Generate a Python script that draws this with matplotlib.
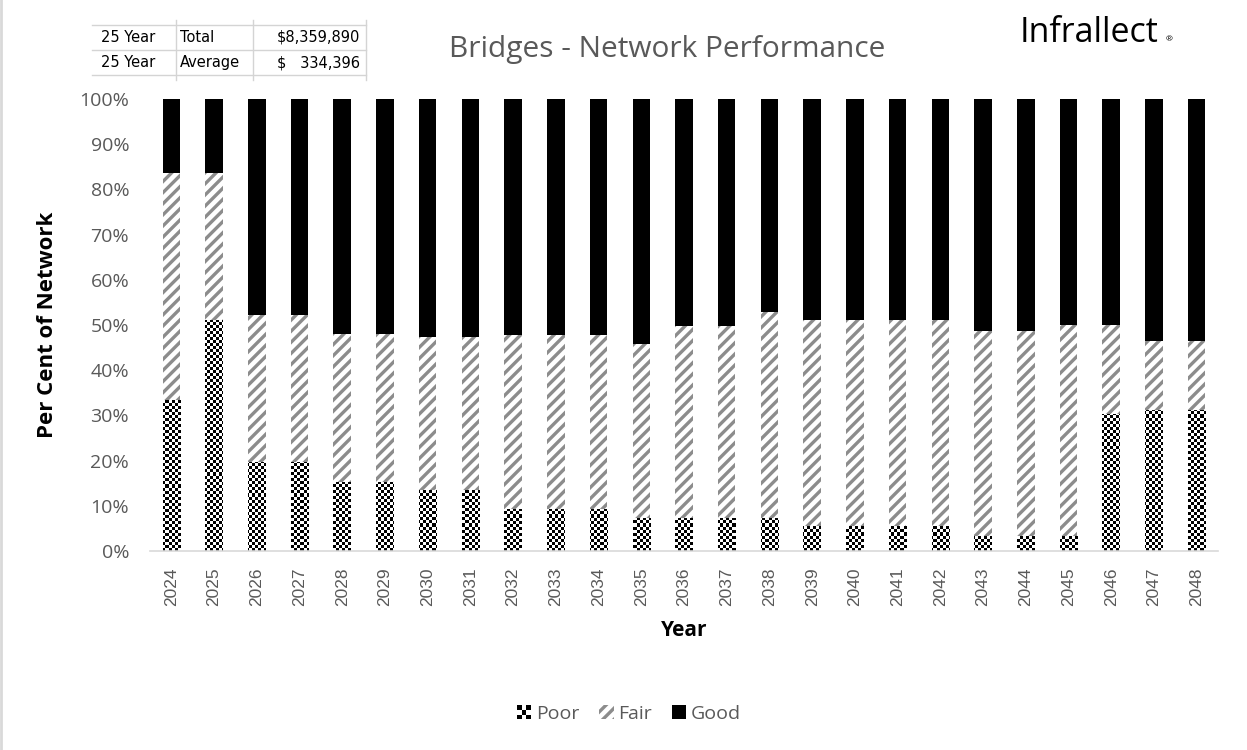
import numpy as np
import matplotlib
matplotlib.use("Agg")
import matplotlib.pyplot as plt
from matplotlib.patches import Rectangle, Patch
from matplotlib.legend_handler import HandlerBase
from matplotlib.lines import Line2D

# Data (per cent of network)
years = [str(y) for y in range(2024, 2049)]
poor = [33.3, 51.0, 19.6, 19.6, 15.3, 15.3, 13.5, 13.5, 9.2, 9.2, 9.2, 7.4, 7.4,
        7.4, 7.4, 5.6, 5.6, 5.6, 5.6, 3.3, 3.3, 3.3, 30.3, 31.2, 31.2]
fair = [50.4, 32.7, 32.6, 32.6, 32.7, 32.7, 33.9, 33.9, 38.6, 38.6, 38.6, 38.5, 42.4,
        42.4, 45.4, 45.5, 45.5, 45.5, 45.5, 45.4, 45.4, 46.7, 19.7, 15.3, 15.3]
good = [16.3, 16.3, 47.8, 47.8, 52.0, 52.0, 52.6, 52.6, 52.2, 52.2, 52.2, 54.1, 50.2,
        50.2, 47.2, 48.9, 48.9, 48.9, 48.9, 51.3, 51.3, 50.0, 50.0, 53.5, 53.5]
yticks = list(range(0, 101, 10))
table_rows = [["25 Year", "Total", "$8,359,890"],
              ["25 Year", "Average", "$   334,396"]]

GRAY = "#595959"
plt.rcParams['font.family'] = ['Open Sans', 'DejaVu Sans']
plt.rcParams['hatch.linewidth'] = 2.4

W, H, DPI = 1247, 750, 100
fig = plt.figure(figsize=(W / DPI, H / DPI), dpi=DPI)
ax = fig.add_axes([150 / W, 1 - 551 / H, (1218 - 150) / W, (551 - 99) / H])

x = np.arange(len(years))
width = 0.41
bottom_fair = np.array(poor)
bottom_good = bottom_fair + np.array(fair)

bars_poor = ax.bar(x, poor, width, color="white", linewidth=0)
ax.bar(x, fair, width, bottom=bottom_fair, color="white", edgecolor="#8c8c8c",
       hatch="///", linewidth=0)
ax.bar(x, good, width, bottom=bottom_good, color="black", linewidth=0)

ax.set_xlim(-0.5, len(years) - 0.5)
ax.set_ylim(0, 100)

# checkerboard fill for the Poor bars, clipped to each bar
cell = 3
nx = int((1218 - 150) / cell)
ny = int((551 - 99) / cell)
checker = (np.add.outer(np.arange(ny), np.arange(nx)) % 2).astype(float)
for b in bars_poor:
    im = ax.imshow(checker, cmap="gray", extent=(-0.5, len(years) - 0.5, 0, 100),
                   aspect="auto", interpolation="nearest", origin="lower", zorder=2)
    im.set_clip_path(b)
ax.set_xlim(-0.5, len(years) - 0.5)
ax.set_ylim(0, 100)

ax.set_yticks(yticks)
ax.set_yticklabels([f"{t}%" for t in yticks])
ax.set_xticks(x)
ax.set_xticklabels(years, rotation=90)
ax.tick_params(axis="both", length=0, colors=GRAY, labelsize=14)
ax.tick_params(axis="y", pad=15)
ax.tick_params(axis="x", pad=12)
for lbl in ax.get_xticklabels():
    lbl.set_family(['Liberation Sans', 'DejaVu Sans'])
    lbl.set_fontsize(12.5)
for s in ["top", "right", "left"]:
    ax.spines[s].set_visible(False)
ax.spines["bottom"].set_color("#d9d9d9")
ax.spines["bottom"].set_linewidth(1.2)

ax.set_xlabel("Year", fontsize=15, fontweight="bold", labelpad=10)
ax.set_ylabel("Per Cent of Network", fontsize=16, fontweight="bold", labelpad=15)

fig.text(667 / W, 1 - 50 / H, "Bridges - Network Performance", ha="center", va="center",
         fontsize=21.5, color=GRAY)

# logo
fig.text(1020 / W, 1 - 33 / H, "Infrallect", ha="left", va="center", fontsize=24.5,
         color="black")
fig.text(1166 / W, 1 - 40 / H, "\u00ae", ha="left", va="center", fontsize=6,
         color="black")

# summary table, top left
col_edges = [92, 176, 253, 366]
row_edges = [25, 50, 75]
for yy in row_edges:
    fig.add_artist(Line2D([col_edges[0] / W, col_edges[-1] / W], [1 - yy / H] * 2,
                          color="#d4d4d4", lw=1))
for xx in col_edges[1:]:
    fig.add_artist(Line2D([xx / W] * 2, [1 - (row_edges[0] - 5) / H, 1 - (row_edges[-1] + 5) / H],
                          color="#d4d4d4", lw=1))
for r, row in enumerate(table_rows):
    yc = 1 - (row_edges[r] + row_edges[r + 1]) / 2 / H
    fig.text(101 / W, yc, row[0], ha="left", va="center", fontsize=10.5,
             family="DejaVu Sans", color="black")
    fig.text(180 / W, yc, row[1], ha="left", va="center", fontsize=10.5,
             family="DejaVu Sans", color="black")
    fig.text(360 / W, yc, row[2], ha="right", va="center", fontsize=10.5,
             family="DejaVu Sans", color="black")


class HandlerChecker(HandlerBase):
    def create_artists(self, legend, orig_handle, xdescent, ydescent, width, height,
                       fontsize, trans):
        n = 3
        s = min(width, height)
        cw = s / n
        arts = []
        for i in range(n):
            for j in range(n):
                if (i + j) % 2 == 0:
                    arts.append(Rectangle((-xdescent + i * cw, -ydescent + j * cw), cw, cw,
                                          facecolor="black", linewidth=0, transform=trans))
        return arts


h_poor = Patch(facecolor="white")
h_fair = Patch(facecolor="white", edgecolor="#8c8c8c", hatch="///", linewidth=0)
h_good = Patch(facecolor="black", linewidth=0)
fig.legend([h_poor, h_fair, h_good], ["Poor", "Fair", "Good"],
           handler_map={h_poor: HandlerChecker()},
           loc="center", bbox_to_anchor=(629 / W, 1 - 714 / H), ncol=3, frameon=False,
           fontsize=14, labelcolor=GRAY, handlelength=0.75, handleheight=0.75,
           handletextpad=0.25, columnspacing=1.0)

fig.add_artist(Line2D([1 / W, 1 / W], [0, 1], color="#d9d9d9", lw=2))

fig.savefig("out.png", dpi=DPI)
